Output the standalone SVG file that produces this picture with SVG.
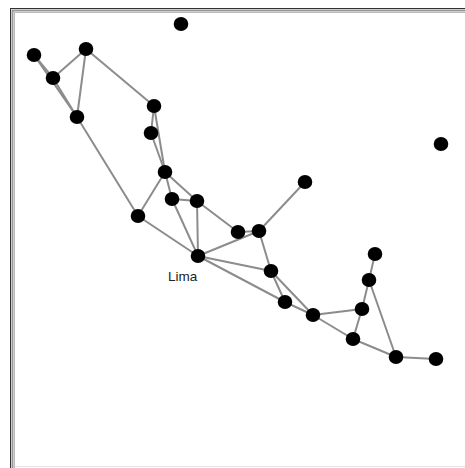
<svg xmlns="http://www.w3.org/2000/svg" width="465" height="468" viewBox="0 0 465 468">
<style>
.e line{stroke:#8c8c8c;stroke-width:2;stroke-linecap:round}
.n{fill:#000}
.lbl{font-family:"Liberation Sans",Arial,sans-serif;font-size:13.5px;fill:#222}
</style>
<rect width="465" height="468" fill="#fff"/>
<g id="frame" fill="none">
<rect x="10.5" y="8.5" width="470" height="470" stroke="#333" stroke-width="1"/>
<rect x="12.5" y="10.5" width="470" height="470" stroke="#999" stroke-width="2"/>
<rect x="14.5" y="12.5" width="470" height="470" stroke="#bbb" stroke-width="1"/>
<line x1="15" y1="466.5" x2="465" y2="466.5" stroke="#e4e4e4" stroke-width="1"/>
</g>
<g id="connectors" class="e">
<line x1="34" y1="55" x2="53" y2="78"/>
<line x1="34" y1="55" x2="77" y2="117"/>
<line x1="53" y1="78" x2="77" y2="117"/>
<line x1="53" y1="78" x2="86" y2="49"/>
<line x1="86" y1="49" x2="77" y2="117"/>
<line x1="86" y1="49" x2="154" y2="106"/>
<line x1="154" y1="106" x2="151" y2="133"/>
<line x1="154" y1="106" x2="165" y2="172"/>
<line x1="151" y1="133" x2="165" y2="172"/>
<line x1="77" y1="117" x2="138" y2="216"/>
<line x1="165" y1="172" x2="138" y2="216"/>
<line x1="165" y1="172" x2="172" y2="199"/>
<line x1="165" y1="172" x2="197" y2="201"/>
<line x1="172" y1="199" x2="197" y2="201"/>
<line x1="172" y1="199" x2="198" y2="256"/>
<line x1="197" y1="201" x2="198" y2="256"/>
<line x1="197" y1="201" x2="238" y2="232"/>
<line x1="138" y1="216" x2="198" y2="256"/>
<line x1="238" y1="232" x2="259" y2="231"/>
<line x1="198" y1="256" x2="259" y2="231"/>
<line x1="259" y1="231" x2="305" y2="182"/>
<line x1="259" y1="231" x2="271" y2="271"/>
<line x1="198" y1="256" x2="271" y2="271"/>
<line x1="198" y1="256" x2="285" y2="302"/>
<line x1="271" y1="271" x2="285" y2="302"/>
<line x1="271" y1="271" x2="313" y2="315"/>
<line x1="285" y1="302" x2="313" y2="315"/>
<line x1="313" y1="315" x2="362" y2="309"/>
<line x1="313" y1="315" x2="353" y2="339"/>
<line x1="362" y1="309" x2="369" y2="280"/>
<line x1="362" y1="309" x2="353" y2="339"/>
<line x1="369" y1="280" x2="375" y2="254"/>
<line x1="369" y1="280" x2="396" y2="357"/>
<line x1="353" y1="339" x2="396" y2="357"/>
<line x1="396" y1="357" x2="436" y2="359"/>
</g>
<g id="n1"><ellipse class="n" cx="181" cy="24" rx="7.3" ry="7"/></g>
<g id="n2"><ellipse class="n" cx="34" cy="55" rx="7.3" ry="7"/></g>
<g id="n3"><ellipse class="n" cx="86" cy="49" rx="7.3" ry="7"/></g>
<g id="n4"><ellipse class="n" cx="53" cy="78" rx="7.3" ry="7"/></g>
<g id="n5"><ellipse class="n" cx="77" cy="117" rx="7.3" ry="7"/></g>
<g id="n6"><ellipse class="n" cx="154" cy="106" rx="7.3" ry="7"/></g>
<g id="n7"><ellipse class="n" cx="151" cy="133" rx="7.3" ry="7"/></g>
<g id="n8"><ellipse class="n" cx="165" cy="172" rx="7.3" ry="7"/></g>
<g id="n9"><ellipse class="n" cx="172" cy="199" rx="7.3" ry="7"/></g>
<g id="n10"><ellipse class="n" cx="197" cy="201" rx="7.3" ry="7"/></g>
<g id="n11"><ellipse class="n" cx="138" cy="216" rx="7.3" ry="7"/></g>
<g id="n12"><ellipse class="n" cx="305" cy="182" rx="7.3" ry="7"/></g>
<g id="n13"><ellipse class="n" cx="441" cy="144" rx="7.3" ry="7"/></g>
<g id="n14"><ellipse class="n" cx="238" cy="232" rx="7.3" ry="7"/></g>
<g id="n15"><ellipse class="n" cx="259" cy="231" rx="7.3" ry="7"/></g>
<g id="lima"><ellipse class="n" cx="198" cy="256" rx="7.3" ry="7"/><text class="lbl" x="168" y="281">Lima</text></g>
<g id="n17"><ellipse class="n" cx="271" cy="271" rx="7.3" ry="7"/></g>
<g id="n18"><ellipse class="n" cx="285" cy="302" rx="7.3" ry="7"/></g>
<g id="n19"><ellipse class="n" cx="313" cy="315" rx="7.3" ry="7"/></g>
<g id="n20"><ellipse class="n" cx="375" cy="254" rx="7.3" ry="7"/></g>
<g id="n21"><ellipse class="n" cx="369" cy="280" rx="7.3" ry="7"/></g>
<g id="n22"><ellipse class="n" cx="362" cy="309" rx="7.3" ry="7"/></g>
<g id="n23"><ellipse class="n" cx="353" cy="339" rx="7.3" ry="7"/></g>
<g id="n24"><ellipse class="n" cx="396" cy="357" rx="7.3" ry="7"/></g>
<g id="n25"><ellipse class="n" cx="436" cy="359" rx="7.3" ry="7"/></g>
</svg>
